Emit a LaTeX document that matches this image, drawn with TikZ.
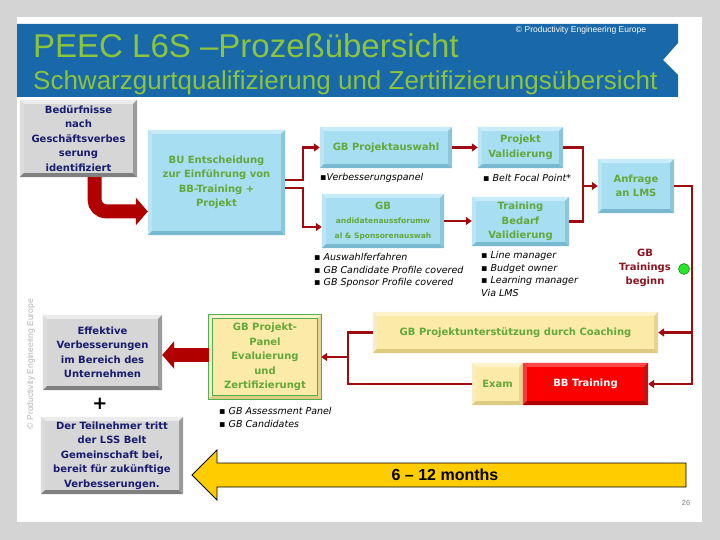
\documentclass[tikz,border=0pt]{standalone}
\usepackage{fontspec}
\setmainfont{DejaVu Sans}
\newfontfamily\arialfont{Liberation Sans}
\usepackage{tikz}
\usetikzlibrary{arrows.meta, calc}
\definecolor{slidegray}{RGB}{212, 212, 212}
\definecolor{bannerblue}{RGB}{25, 104, 170}
\definecolor{titlegreen}{RGB}{140, 196, 60}
\definecolor{textgreen}{RGB}{98, 168, 58}
\definecolor{navytext}{RGB}{26, 26, 110}
\definecolor{boxgray}{RGB}{214, 214, 214}
\definecolor{graytop}{RGB}{236, 236, 236}
\definecolor{graybot}{RGB}{128, 128, 128}
\definecolor{boxblue}{RGB}{168, 222, 242}
\definecolor{bluetop}{RGB}{200, 236, 249}
\definecolor{bluebot}{RGB}{120, 185, 208}
\definecolor{paleyellow}{RGB}{252, 234, 168}
\definecolor{yellowtop}{RGB}{253, 243, 205}
\definecolor{yellowbot}{RGB}{222, 202, 128}
\definecolor{bbred}{RGB}{250, 0, 0}
\definecolor{redtop}{RGB}{255, 70, 70}
\definecolor{redbot}{RGB}{175, 0, 0}
\definecolor{linered}{RGB}{158, 12, 16}
\definecolor{arrowred}{RGB}{176, 0, 0}
\definecolor{darkred}{RGB}{140, 20, 30}
\definecolor{panelgreen}{RGB}{80, 176, 80}
\definecolor{dotgreen}{RGB}{40, 230, 40}
\definecolor{goldarrow}{RGB}{255, 204, 0}
\definecolor{wmgray}{RGB}{180, 180, 180}

% bevelled edges of a box: light top/left, dark bottom/right
\newcommand{\bevel}[3]{%
  \fill[#2] (#1.north west) -- (#1.north east) -- ([shift={(-4pt,-4pt)}]#1.north east) -- ([shift={(4pt,-4pt)}]#1.north west) -- cycle;
  \fill[#2!85!#3] (#1.north west) -- (#1.south west) -- ([shift={(4pt,4pt)}]#1.south west) -- ([shift={(4pt,-4pt)}]#1.north west) -- cycle;
  \fill[#3] (#1.south west) -- (#1.south east) -- ([shift={(-4pt,4pt)}]#1.south east) -- ([shift={(4pt,4pt)}]#1.south west) -- cycle;
  \fill[#3!75!#2] (#1.north east) -- (#1.south east) -- ([shift={(-4pt,4pt)}]#1.south east) -- ([shift={(-4pt,-4pt)}]#1.north east) -- cycle;
}

\begin{document}
\begin{tikzpicture}[
    x=1pt, y=-1pt,
    box/.style={rectangle, inner sep=2pt, align=center, font=\bfseries\fontsize{10}{14.5}\selectfont},
    graybox/.style={box, fill=boxgray, text=navytext},
    bluebox/.style={box, fill=boxblue, text=textgreen},
    yellowbox/.style={box, fill=paleyellow, text=textgreen},
    link/.style={draw=linered, line width=2.5pt, -{Triangle[length=6pt,width=8pt]}},
    wire/.style={draw=linered, line width=2.5pt},
    fatarrow/.style={draw=arrowred, line width=14pt, -{Triangle[length=12pt,width=27pt]}},
    note/.style={inner sep=0pt, align=left, font=\itshape\fontsize{9.5}{12.7}\selectfont}
]
    \useasboundingbox (0, 0) rectangle (720, 540);
    \fill[slidegray] (0, 0) rectangle (720, 540);
    \fill[white] (17, 17) rectangle (702, 522);

    % Banner
    \fill[bannerblue] (17, 24) -- (678, 24) -- (678, 43) -- (663, 60) -- (678, 75) -- (678, 97) -- (17, 97) -- cycle;
    \node[anchor=base west, inner sep=0, text=titlegreen, font=\arialfont\fontsize{33}{33}\selectfont] (title) at (33, 58) {PEEC L6S –Prozeßübersicht};
    \node[anchor=base west, inner sep=0, text=titlegreen, font=\arialfont\fontsize{26}{26}\selectfont] (subtitle) at (33, 90) {Schwarzgurtqualifizierung und Zertifizierungsübersicht};
    \node[text=white, font=\arialfont\fontsize{8.5}{9}\selectfont] (copy) at (581, 30) {© Productivity Engineering Europe};
    \node[rotate=90, text=wmgray, font=\arialfont\fontsize{8.5}{9}\selectfont] (watermark) at (31, 364) {© Productivity Engineering Europe};

    % Row 1: need and selection
    \node[graybox, minimum width=117pt, minimum height=77pt] (need) at (78.5, 138.5) {Bedürfnisse\\nach\\Geschäftsverbes\\serung\\identifiziert};
    \node[bluebox, minimum width=137pt, minimum height=105pt] (bu) at (216.5, 182.5) {BU Entscheidung\\zur Einführung von\\BB-Training +\\Projekt};
    \node[bluebox, minimum width=132pt, minimum height=41pt] (gbpa) at (386, 147.5) {GB Projektauswahl};
    \node[bluebox, minimum width=122pt, minimum height=54pt] (gbsel) at (383, 221) {GB\\{\fontsize{7.5}{10}\selectfont andidatenaussforumw}\\{\fontsize{7.5}{10}\selectfont al \& Sponsorenauswah}};
    \node[bluebox, minimum width=85pt, minimum height=41pt] (pval) at (520.5, 147.5) {Projekt\\Validierung};
    \node[bluebox, minimum width=97pt, minimum height=49pt] (tval) at (520.5, 221.5) {Training\\Bedarf\\Validierung};
    \node[bluebox, minimum width=76pt, minimum height=54pt] (lms) at (636, 186) {Anfrage\\an LMS};

    % Row 2: training and coaching
    \node[yellowbox, minimum width=285pt, minimum height=41pt] (coach) at (515.5, 332.5) {GB Projektunterstützung durch Coaching};
    \node[yellowbox, minimum width=51pt, minimum height=42pt] (exam) at (497.5, 384) {Exam};
    \node[box, fill=bbred, text=white, minimum width=125pt, minimum height=42pt] (bbt) at (585.5, 384) {BB Training};
    \node[yellowbox, minimum width=112pt, minimum height=84pt] (panel) at (265, 357) {GB Projekt-\\Panel\\Evaluierung\\und\\Zertifizierungt};

    % Row 3: results
    \node[graybox, minimum width=119pt, minimum height=75pt] (effekt) at (102.5, 352.5) {Effektive\\Verbesserungen\\im Bereich des\\Unternehmen};
    \node[graybox, minimum width=142pt, minimum height=77pt] (teil) at (112, 455.5) {Der Teilnehmer tritt\\der LSS Belt\\Gemeinschaft bei,\\bereit für zukünftige\\Verbesserungen.};
    \node[font=\bfseries\fontsize{18}{18}\selectfont] (plus) at (100, 404) {+};

    % Bevels
    \bevel{need}{graytop}{graybot}
    \bevel{effekt}{graytop}{graybot}
    \bevel{teil}{graytop}{graybot}
    \bevel{bu}{bluetop}{bluebot}
    \bevel{gbpa}{bluetop}{bluebot}
    \bevel{gbsel}{bluetop}{bluebot}
    \bevel{pval}{bluetop}{bluebot}
    \bevel{tval}{bluetop}{bluebot}
    \bevel{lms}{bluetop}{bluebot}
    \bevel{coach}{yellowtop}{yellowbot}
    \bevel{exam}{yellowtop}{yellowbot}
    \bevel{bbt}{redtop}{redbot}
    \bevel{panel}{yellowtop}{yellowbot}
    \draw[panelgreen, line width=1pt] (panel.north west) rectangle (panel.south east);
    \draw[panelgreen, line width=1pt] ([shift={(4pt,-4pt)}]panel.north west) rectangle ([shift={(-4pt,4pt)}]panel.south east);

    % Notes
    \node[note, anchor=west] (gbpanote) at (320, 178) {\textup{▪}Verbesserungspanel};
    \node[note, anchor=west] (pvalnote) at (483, 178) {\textup{▪} Belt Focal Point*};
    \node[note, anchor=north west] (gbselnote) at (314, 253) {\textup{▪} Auswahlferfahren\\\textup{▪} GB Candidate Profile covered\\\textup{▪} GB Sponsor Profile covered};
    \node[note, anchor=north west] (tvalnote) at (481, 251) {\textup{▪} Line manager\\\textup{▪} Budget owner\\\textup{▪} Learning manager\\Via LMS};
    \node[note, anchor=north west] (panelnote) at (219, 407) {\textup{▪} GB Assessment Panel\\\textup{▪} GB Candidates};
    \node[align=center, text=darkred, font=\bfseries\fontsize{10}{14}\selectfont] (beginn) at (645, 268) {GB\\Trainings\\beginn};
    \node[circle, fill=dotgreen, draw=green!40!black, minimum size=11pt, inner sep=0pt] (startdot) at (684, 269) {};

    % Arrows
    \draw[fatarrow, rounded corners=12pt] ([xshift=16pt]need.south) |- ([yshift=-29pt]bu.west);
    \draw[link] ([yshift=2.5pt]bu.east) -- ++(18, 0) |- (gbpa.west);
    \draw[link] ([yshift=-5.5pt]bu.east) -- ++(18, 0) |- ([yshift=-6pt]gbsel.west);
    \draw[link] (gbpa.east) -- (pval.west);
    \draw[link] (gbsel.east) -- (gbsel.east -| tval.west);
    \coordinate (merge) at (583, 186);
    \draw[wire] (pval.east) -| (merge) |- (tval.east);
    \draw[link] (merge) -- (lms.west);
    \coordinate (drop) at (692, 384);
    \draw[link] (lms.east) -| (drop) -- (bbt.east);
    \draw[link] (drop |- coach.east) -- (coach.east);
    \coordinate (fork) at (348, 357);
    \draw[wire] (coach.west) -| (fork) |- (exam.west);
    \draw[link] (fork) -- (panel.east);
    \draw[fatarrow] ($(panel.west)+(0, -2)$) -- ($(panel.west -| effekt.east)+(0, -2)$);

    % Time span
    \draw[black, fill=goldarrow, line width=0.8pt] (686, 463) -- (217, 463) -- (217, 450) -- (192, 475) -- (217, 500) -- (217, 487) -- (686, 487) -- cycle;
    \node[font=\arialfont\bfseries\fontsize{16}{16}\selectfont] (months) at (445, 475) {6 – 12 months};
    \node[text=gray, font=\arialfont\fontsize{7.5}{8}\selectfont] (page) at (686, 503) {26};
\end{tikzpicture}
\end{document}
